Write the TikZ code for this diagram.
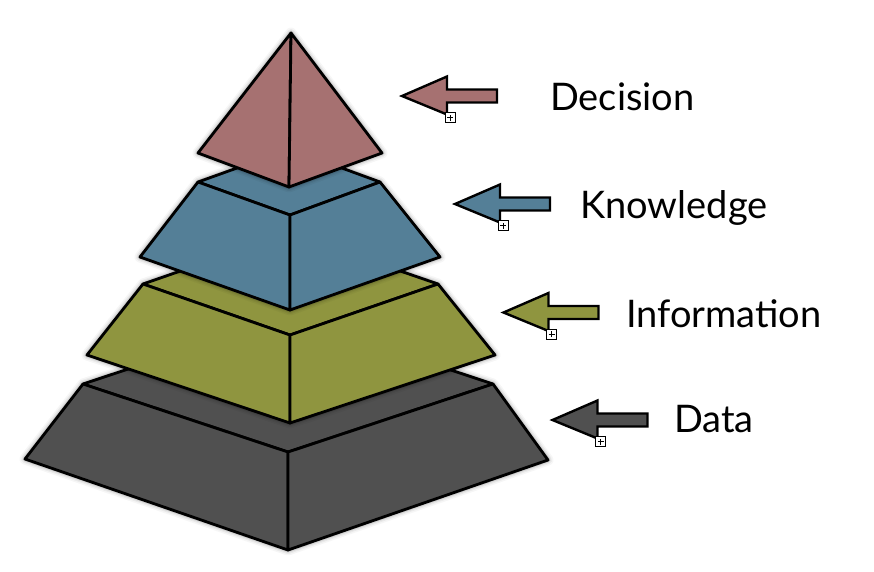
\documentclass[tikz,border=0pt]{standalone}
\usepackage{fontspec}
\setmainfont{Lato}
\definecolor{decisionred}{RGB}{166,113,113}
\definecolor{knowblue}{RGB}{84,127,151}
\definecolor{infogreen}{RGB}{143,149,63}
\definecolor{datagray}{RGB}{80,80,80}
\tikzset{
  edge/.style={draw=black, line width=2.8pt, line join=round},
  pointer/.style={draw=black, line width=2.4pt, line join=miter},
  tierlabel/.style={font=\fontsize{38}{42}\selectfont, anchor=base west, inner sep=0pt},
  expander/.style={draw=black, fill=white, line width=0.8pt, minimum size=10pt, inner sep=0pt},
}
% soft gray halo around a closed outline
\newcommand\softhalo[1]{%
  \foreach \w/\o in {11/0.035,8/0.05,5.5/0.07,3.5/0.09}{%
    \draw[line width=\w pt, opacity=\o, line join=round] #1;}}
% one frustum tier: top face plus two front faces
\newcommand\tier[8]{% color, TL, TF, TR, BL, BF, BR, back
  \softhalo{(#2) -- (#8) -- (#4) -- (#7) -- (#6) -- (#5) -- cycle}
  \draw[edge, fill=#1] (#2) -- (#8) -- (#4) -- (#3) -- cycle;
  \draw[edge, fill=#1] (#2) -- (#3) -- (#6) -- (#5) -- cycle;
  \draw[edge, fill=#1] (#3) -- (#4) -- (#7) -- (#6) -- cycle;
}
% block arrow pointing left, tip at the given point
\newcommand\levelarrow[4]{% name, color, tip x, tip y
  \begin{scope}[shift={(#3,#4)}]
    \coordinate (#1) at (0,0);
    \draw[pointer, fill=#2] (#1) -- (45,-19.5) -- (45,-6.5) -- (95,-6.5)
      -- (95,6.5) -- (45,6.5) -- (45,18.5) -- cycle;
    \node[expander] (#1box) at (48,21.5) {};
    \draw[line width=0.8pt] ([xshift=-3pt]#1box.center) -- ([xshift=3pt]#1box.center);
    \draw[line width=0.8pt] ([yshift=-3pt]#1box.center) -- ([yshift=3pt]#1box.center);
  \end{scope}
}
\begin{document}
\begin{tikzpicture}[x=1pt,y=-1pt]
  \useasboundingbox[fill=white] (0,0) rectangle (874,571);

  % base tier: data
  \coordinate (dTL) at (83,384);  \coordinate (dTF) at (288,452); \coordinate (dTR) at (493,384);
  \coordinate (dBL) at (25,459);  \coordinate (dBF) at (288,550); \coordinate (dBR) at (548,460);
  \coordinate (dBK) at (288,316);
  \tier{datagray}{dTL}{dTF}{dTR}{dBL}{dBF}{dBR}{dBK}

  % information tier
  \coordinate (iTL) at (143,284); \coordinate (iTF) at (290,335); \coordinate (iTR) at (438,284);
  \coordinate (iBL) at (87,355);  \coordinate (iBF) at (290,423); \coordinate (iBR) at (495,355);
  \coordinate (iBK) at (290,233);
  \tier{infogreen}{iTL}{iTF}{iTR}{iBL}{iBF}{iBR}{iBK}

  % knowledge tier
  \coordinate (kTL) at (198,182); \coordinate (kTF) at (290,215); \coordinate (kTR) at (380,182);
  \coordinate (kBL) at (140,257); \coordinate (kBF) at (290,310); \coordinate (kBR) at (440,257);
  \coordinate (kBK) at (290,149);
  \tier{knowblue}{kTL}{kTF}{kTR}{kBL}{kBF}{kBR}{kBK}

  % decision apex
  \coordinate (apex) at (291,33); \coordinate (pL) at (198,153);
  \coordinate (pF) at (289,187);  \coordinate (pR) at (382,153);
  \softhalo{(apex) -- (pR) -- (pF) -- (pL) -- cycle}
  \draw[edge, fill=decisionred] (apex) -- (pL) -- (pF) -- cycle;
  \draw[edge, fill=decisionred] (apex) -- (pF) -- (pR) -- cycle;

  % pointers and labels
  \levelarrow{decArrow}{decisionred}{402}{96}
  \levelarrow{knoArrow}{knowblue}{455}{204}
  \levelarrow{infArrow}{infogreen}{503.5}{312.5}
  \levelarrow{datArrow}{datagray}{552.5}{420}

  \node[tierlabel] (decision) at (550,110) {Decision};
  \node[tierlabel] (knowledge) at (580,218) {Knowledge};
  \node[tierlabel] (information) at (626,327) {Information};
  \node[tierlabel] (data) at (674,432) {Data};
\end{tikzpicture}
\end{document}
